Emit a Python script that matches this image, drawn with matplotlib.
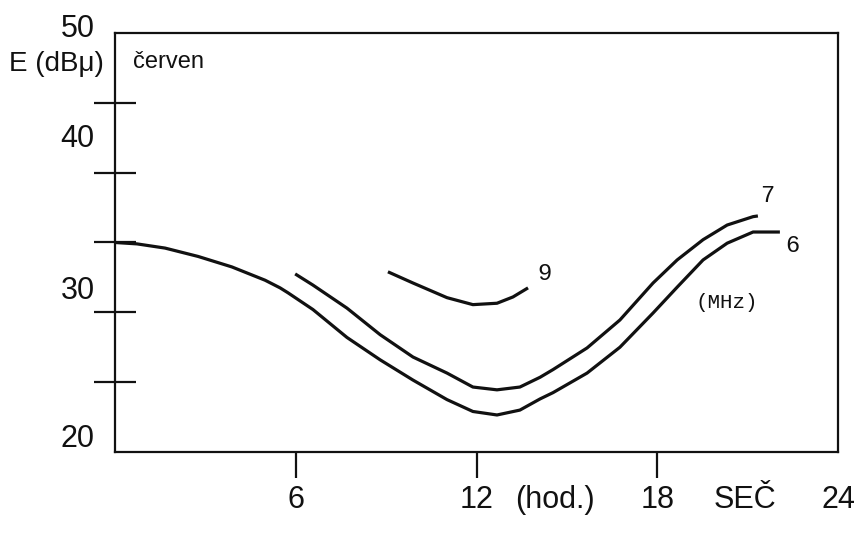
import matplotlib.pyplot as plt

# hours (SEČ) and field strength E (dBµ)
hours_6 = [0.0, 0.73, 1.66, 2.76, 3.88, 4.98, 5.48, 5.74, 6.57, 7.70, 8.80, 9.89,
           11.02, 11.88, 12.68, 13.44, 14.11, 14.54, 15.67, 16.76, 17.86, 18.66,
           19.52, 20.32, 21.18, 22.07]
e_6 = [35.0, 34.9, 34.6, 34.0, 33.25, 32.3, 31.75, 31.4, 30.2, 28.2, 26.6, 25.15,
       23.75, 22.9, 22.65, 23.0, 23.8, 24.25, 25.65, 27.5, 29.95, 31.8,
       33.75, 34.95, 35.75, 35.75]

hours_7 = [5.98, 6.57, 7.70, 8.80, 9.89, 11.02, 11.88, 12.68, 13.44, 14.11, 14.54,
           15.67, 16.76, 17.86, 18.66, 19.52, 20.32, 21.18, 21.34]
e_7 = [32.75, 31.95, 30.3, 28.4, 26.8, 25.65, 24.65, 24.45, 24.65, 25.35, 25.9,
       27.45, 29.45, 32.1, 33.75, 35.2, 36.25, 36.85, 36.9]

hours_9 = [9.06, 9.89, 11.02, 11.88, 12.68, 13.21, 13.71]
e_9 = [32.9, 32.1, 31.05, 30.55, 30.65, 31.1, 31.75]

curve_names = ['6', '7', '9']
x_labels = ['6', '12', '(hod.)', '18', 'SEČ', '24']
x_label_pos = [6, 12, 14.6, 18, 20.9, 24]
y_labels = ['50', '40', '30', '20']
y_label_pos = [50.3, 42.4, 31.5, 20.9]

sans = ['Liberation Sans', 'DejaVu Sans']
ink = '#111111'

fig = plt.figure(figsize=(8.66, 5.33), dpi=100)
ax = fig.add_axes([0.1328, 0.152, 0.8349, 0.7861])

for hx, ey in [(hours_6, e_6), (hours_7, e_7), (hours_9, e_9)]:
    ax.plot(hx, ey, color=ink, lw=2.3, solid_capstyle='butt', solid_joinstyle='round')

ax.set_xlim(0, 24)
ax.set_ylim(20, 50)
for s in ax.spines.values():
    s.set_linewidth(1.6)
    s.set_color(ink)

# y: plain tick marks crossing the axis, labels drawn where the scan has them
ax.set_yticks([25, 30, 35, 40, 45])
ax.set_yticklabels([])
ax.tick_params(axis='y', direction='inout', length=30, width=1.6, color=ink)
for lab, yp in zip(y_labels, y_label_pos):
    ax.text(-0.028, yp, lab, transform=ax.get_yaxis_transform(), ha='right',
            va='center', fontsize=22, family=sans, color=ink)

ax.set_xticks(x_label_pos)
ax.set_xticklabels(x_labels, family=sans, fontsize=22, color=ink)
ax.tick_params(axis='x', direction='out', length=19, width=1.6, pad=5, color=ink)
for i, t in enumerate(ax.xaxis.get_major_ticks()):
    if x_labels[i] in ('(hod.)', 'SEČ', '24'):
        t.tick1line.set_visible(False)

ax.text(-0.016, 0.926, 'E (dBμ)', transform=ax.transAxes, ha='right', va='center',
        fontsize=20, family=sans, color=ink)
ax.text(0.025, 0.93, 'červen', transform=ax.transAxes, ha='left', va='center',
        fontsize=17, family=sans, color=ink)

mono = ['Liberation Mono', 'DejaVu Sans Mono']
ax.text(22.47, 34.8, curve_names[0], fontsize=17, family=mono, ha='center', va='center', color=ink)
ax.text(21.64, 38.4, curve_names[1], fontsize=17, family=mono, ha='center', va='center', color=ink)
ax.text(14.27, 32.8, curve_names[2], fontsize=17, family=mono, ha='center', va='center', color=ink)
ax.text(20.32, 30.7, '(MHz)', fontsize=15, family=mono, ha='center', va='center', color=ink)

fig.savefig('out.png', dpi=100)
